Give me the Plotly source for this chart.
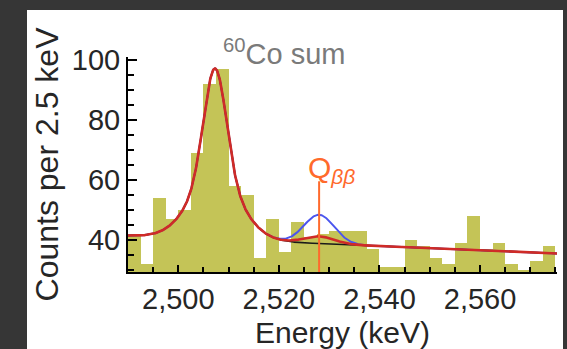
import numpy as np
import plotly.graph_objects as go

# ---- histogram: counts per 2.5 keV bin, starting at 2490 keV ----
bin_start = 2490.0
bin_width = 2.5
counts = [42, 32, 54, 47, 50, 69, 92, 97, 58, 55,
          34, 47, 36, 46, 41, 42, 43, 43, 43, 37,
          31, 31, 40, 38, 34, 32, 39, 48, 37, 39,
          32, 30, 33, 38]

# ---- fit model parameters ----
q_bb = 2528.0            # Q-value marker position (keV)
bg_at_q = 38.7           # continuum level at Q
bg_slope = -0.07         # counts per keV
co_center = 2507.3       # 60Co sum peak
co_core_amp, co_core_sigma = 37.0, 2.2
co_wide_amp, co_wide_sigma = 20.0, 5.0
sig_sigma = 3.0
sig_best = 2.4           # best-fit signal amplitude
sig_limit = 9.6          # 90% limit signal amplitude

x_range = [2490, 2575.3]
y_range = [29.2, 101]

centers = [bin_start + bin_width * (i + 0.5) for i in range(len(counts))]
E = np.linspace(x_range[0], x_range[1], 900)


def gauss(x, mu, amp, sigma):
    return amp * np.exp(-0.5 * ((x - mu) / sigma) ** 2)


def model(x, signal_amp):
    return (bg_at_q + bg_slope * (x - q_bb)
            + gauss(x, co_center, co_core_amp, co_core_sigma)
            + gauss(x, co_center, co_wide_amp, co_wide_sigma)
            + gauss(x, q_bb, signal_amp, sig_sigma))


OLIVE = "#c4c457"
RED = "#cf2b27"
BLUE = "#4b55ee"
ORANGE = "#ff6a2c"
TXT = "#262626"
FONT = "Liberation Sans, Arial, Helvetica, sans-serif"

fig = go.Figure()
fig.add_trace(go.Bar(x=centers, y=counts, width=bin_width,
                     marker=dict(color=OLIVE, line=dict(width=0)),
                     hoverinfo="x+y"))
fig.add_trace(go.Scatter(x=E, y=model(E, sig_limit), mode="lines",
                         line=dict(color=BLUE, width=2)))
fig.add_trace(go.Scatter(x=E, y=model(E, 0.0), mode="lines",
                         line=dict(color="#1a1a1a", width=1.6)))
fig.add_trace(go.Scatter(x=E, y=model(E, sig_best), mode="lines",
                         line=dict(color=RED, width=2.6)))

# Q-value marker
fig.add_shape(type="line", xref="x", yref="y", x0=q_bb, x1=q_bb,
              y0=y_range[0], y1=59.5, line=dict(color=ORANGE, width=2),
              layer="above")

# white panel behind the chart
L, R, T, B = 128.0, 557.0, 57.0, 272.5
W, H = R - L, B - T


def px_x(p):
    return (p - L) / W


def px_y(p):
    return (B - p) / H


fig.add_shape(type="rect", xref="paper", yref="paper",
              x0=px_x(27), x1=px_x(563), y0=px_y(360), y1=px_y(10),
              fillcolor="white", line=dict(width=0), layer="below")

fig.add_annotation(x=px_x(284), y=px_y(52), xref="paper", yref="paper",
                   text="<sup>60</sup>Co sum", showarrow=False,
                   font=dict(family=FONT, size=29, color="#7a7a7a"),
                   xanchor="center", yanchor="middle")
fig.add_annotation(x=px_x(306), y=px_y(170), xref="paper", yref="paper",
                   text="Q<sub><i>ββ</i></sub>", showarrow=False,
                   font=dict(family=FONT, size=30, color=ORANGE),
                   xanchor="left", yanchor="middle")

fig.update_layout(
    width=567, height=349,
    margin=dict(l=L, r=567 - R, t=T, b=349 - B, pad=0),
    paper_bgcolor="#363636", plot_bgcolor="rgba(0,0,0,0)",
    showlegend=False, bargap=0,
    font=dict(family=FONT, size=29, color=TXT),
)
fig.update_xaxes(range=x_range, showgrid=False, zeroline=False,
                 automargin=False,
                 showline=True, linecolor="black", linewidth=2,
                 ticks="inside", ticklen=7, tickwidth=1.5, tickcolor="black",
                 tick0=2500, dtick=20, tickformat=",d",
                 minor=dict(ticks="inside", dtick=5, tick0=2500, ticklen=5,
                            tickwidth=1.5, tickcolor="black"),
                 tickfont=dict(family=FONT, size=29, color=TXT),
                 title=dict(text="Energy (keV)", standoff=9,
                            font=dict(family=FONT, size=30, color=TXT)))
fig.update_yaxes(range=y_range, showgrid=False, zeroline=False,
                 automargin=False,
                 showline=True, linecolor="black", linewidth=2,
                 ticks="inside", ticklen=9, tickwidth=1.5, tickcolor="black",
                 tick0=40, dtick=20,
                 minor=dict(ticks="inside", dtick=5, tick0=40, ticklen=6,
                            tickwidth=1.5, tickcolor="black"),
                 tickfont=dict(family=FONT, size=29, color=TXT),
                 title=dict(text="Counts per 2.5 keV", standoff=4,
                            font=dict(family=FONT, size=32, color=TXT)))

fig.write_html("out.html")
